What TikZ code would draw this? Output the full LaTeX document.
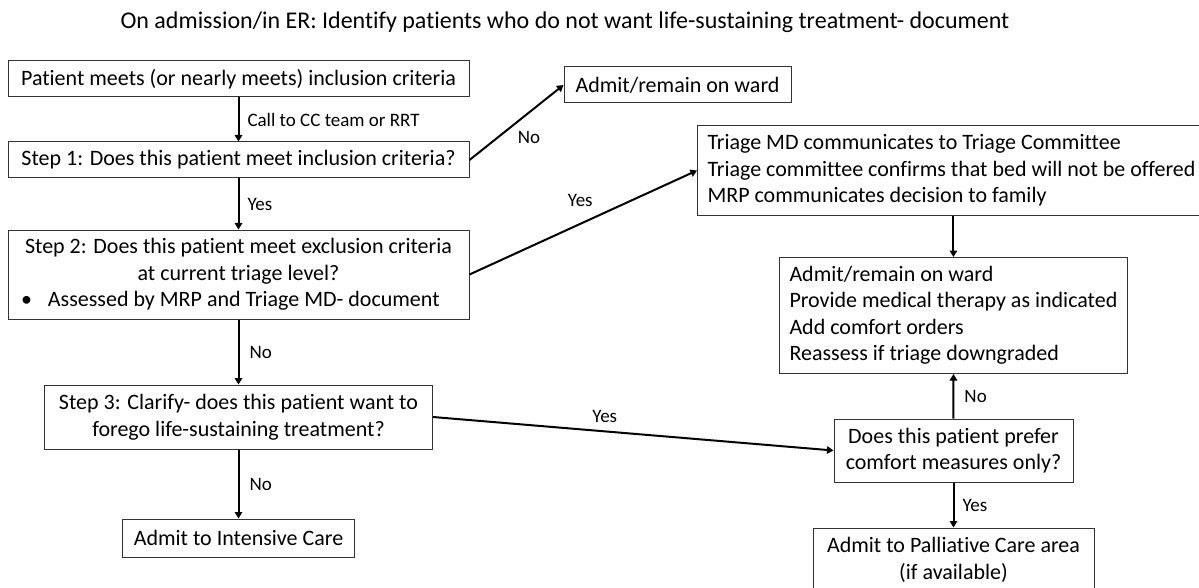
\documentclass[tikz,border=0pt]{standalone}
\usepackage{fontspec}
\setmainfont{Carlito}[Ligatures=CommonOff]
\usetikzlibrary{arrows.meta}
\begin{document}
\begin{tikzpicture}[x=1pt,y=-1pt,
  box/.style={draw=black!80, line width=1pt, inner sep=0pt, align=center,
    font=\fontsize{22}{26.5}\selectfont},
  arr/.style={line width=2pt, -{Triangle[length=6.5pt,width=7.5pt]}},
  lbl/.style={font=\fontsize{19}{23}\selectfont, inner sep=0pt}]
\useasboundingbox (0,0) rectangle (1199,588);
\draw (565,22) node[lbl, font=\fontsize{24}{28}\selectfont] (title) {On admission/in ER: Identify patients who do not want life-sustaining treatment- document};
% left column
\draw (238.5,79) node[box, minimum width=461, minimum height=36] (start) {Patient meets (or nearly meets) inclusion criteria};
\draw (238.5,160) node[box, minimum width=461, minimum height=36] (step1) {Step 1: Does this patient meet inclusion criteria?};
\draw (238.5,274.5) node[box, minimum width=461, minimum height=89] (step2) {Step 2: Does this patient meet exclusion criteria\\ at current triage level?\\
  \hbox to 441pt{\hskip 3pt\textbullet\hskip 16pt Assessed by MRP and Triage MD- document\hfil}};
\draw (238.5,417) node[box, minimum width=388, minimum height=64] (step3) {Step 3: Clarify- does this patient want to\\ forego life-sustaining treatment?};
\draw (238.5,538) node[box, minimum width=232, minimum height=38] (icu) {Admit to Intensive Care};
% right side
\draw (677.5,85) node[box, minimum width=227, minimum height=36] (ward) {Admit/remain on ward};
\draw (697,125) node[box, anchor=north west, align=left, inner xsep=10, minimum height=90] (triage) {Triage MD communicates to Triage Committee\\ Triage committee confirms that bed will not be offered\hspace*{20pt}\\ MRP communicates decision to family};
\draw (779,257) node[box, anchor=north west, align=left, inner xsep=10, minimum height=116] (admit) {Admit/remain on ward\\ Provide medical therapy as indicated\\ Add comfort orders\\ Reassess if triage downgraded};
\draw (953.5,450.5) node[box, minimum width=239, minimum height=63] (prefer) {Does this patient prefer\\ comfort measures only?};
\draw (953.5,560) node[box, minimum width=281, minimum height=64] (pall) {Admit to Palliative Care area\\ (if available)};
% connectors
\draw[arr] (start) -- node[lbl, right, xshift=8] {Call to CC team or RRT} (step1);
\draw[arr] (step1) -- node[lbl, right, xshift=8] {Yes} (step2);
\draw[arr] (step2) -- node[lbl, right, xshift=10] {No} (step3);
\draw[arr] (step3) -- node[lbl, right, xshift=10] {No} (icu);
\draw[arr] (step1.east) -- node[lbl, xshift=12.5, yshift=-14.5] {No} (ward.west);
\draw[arr] (step2.east) -- node[lbl, xshift=-3, yshift=22.5] {Yes} (triage.west);
\draw[arr] (step3.east) -- node[lbl, xshift=-28.5, yshift=17] {Yes} (prefer.west);
\draw[arr] (triage.south -| admit.north) -- (admit.north);
\draw[arr] (prefer) -- node[lbl, right, xshift=10] {No} (admit);
\draw[arr] (prefer) -- node[lbl, right, xshift=8] {Yes} (pall);
\end{tikzpicture}
\end{document}
